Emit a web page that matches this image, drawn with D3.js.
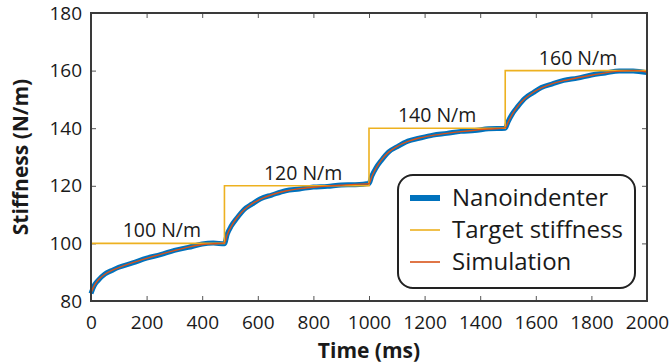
<html>
<head>
<style type="text/css">
  body { margin: 0; background: white; }
  text { font-family: "Open Sans", sans-serif; fill: #1a1a1a; }
  .axis text { font-size: 19px; }
  .axis line { stroke: #555; stroke-width: 1; }
  .axis path { display: none; }
  .title { font-size: 21px; font-weight: bold; }
  .note { font-size: 19.5px; }
  .legend text { font-size: 24px; }
</style>
<script src="https://d3js.org/d3.v7.min.js"></script>
</head>
<body>
<script type="text/javascript">

// stiffness over time (ms, N/m)
var simTime = [0, 10, 25, 50, 75, 100, 150, 200, 250, 300, 350, 400, 440, 480,
  490, 505, 525, 550, 580, 610, 650, 700, 750, 800, 850, 900, 950, 1000,
  1010, 1025, 1045, 1070, 1100, 1140, 1180, 1230, 1280, 1330, 1380, 1430, 1490,
  1500, 1515, 1535, 1560, 1590, 1620, 1660, 1700, 1750, 1800, 1850, 1900, 1950, 2000];
var simValue = [82.8, 85.0, 87.2, 89.3, 90.6, 91.6, 93.3, 94.8, 96.2, 97.5, 98.7, 99.6, 99.9, 100.1,
  103.0, 106.0, 108.9, 111.6, 113.8, 115.4, 116.9, 118.2, 119.0, 119.5, 119.9, 120.2, 120.5, 120.7,
  123.2, 126.1, 129.0, 131.6, 133.6, 135.4, 136.6, 137.5, 138.2, 138.8, 139.3, 139.7, 140.1,
  142.0, 144.8, 147.6, 150.2, 152.4, 154.0, 155.5, 156.5, 157.5, 158.4, 159.2, 159.8, 160.0, 159.5];
var nanoValue = [82.6, 85.1, 87.1, 89.4, 90.6, 91.7, 93.2, 94.9, 96.1, 97.6, 98.6, 99.8, 100.1, 99.9,
  103.2, 106.1, 108.8, 111.7, 113.7, 115.5, 116.8, 118.3, 118.9, 119.6, 119.8, 120.3, 120.4, 120.8,
  123.4, 126.2, 128.9, 131.7, 133.5, 135.5, 136.5, 137.6, 138.2, 138.9, 139.2, 139.8, 140.0,
  142.2, 144.9, 147.5, 150.3, 152.3, 154.1, 155.4, 156.6, 157.4, 158.5, 159.2, 159.9, 159.9, 159.3];

var targetTime = [0, 480, 1000, 1490, 2000];
var targetValue = [100, 120, 140, 160, 160];

var noteTime = [255, 763, 1245, 1752];
var noteValue = [100, 120, 140, 160];
var noteText = ["100 N/m", "120 N/m", "140 N/m", "160 N/m"];

var xTicks = [0, 200, 400, 600, 800, 1000, 1200, 1400, 1600, 1800, 2000];
var yTicks = [80, 100, 120, 140, 160, 180];

var legendNames = ["Nanoindenter", "Target stiffness", "Simulation"];
var blue = "#0072BD", yellow = "#EDB120", red = "#D95319";

var W = 671, H = 364;
var m = {left: 91, right: 24, top: 13, bottom: 63};

var svg = d3.select("body").append("svg")
  .attr("width", W).attr("height", H);

var x = d3.scaleLinear().domain([0, 2000]).range([m.left, W - m.right]);
var y = d3.scaleLinear().domain([80, 180]).range([H - m.bottom, m.top]);

// axes with inward ticks
svg.append("g").attr("class", "axis")
  .attr("transform", "translate(0," + (H - m.bottom) + ")")
  .call(d3.axisBottom(x).tickValues(xTicks).tickFormat(d3.format("d"))
    .tickSizeInner(-5).tickSizeOuter(0).tickPadding(15));
svg.append("g").attr("class", "axis")
  .attr("transform", "translate(" + m.left + ",0)")
  .call(d3.axisLeft(y).tickValues(yTicks).tickSizeInner(-5).tickSizeOuter(0).tickPadding(9));
svg.append("g").attr("class", "axis")
  .attr("transform", "translate(0," + m.top + ")")
  .call(d3.axisTop(x).tickValues(xTicks).tickSizeInner(-5).tickSizeOuter(0).tickFormat(""));
svg.append("g").attr("class", "axis")
  .attr("transform", "translate(" + (W - m.right) + ",0)")
  .call(d3.axisRight(y).tickValues(yTicks).tickSizeInner(-5).tickSizeOuter(0).tickFormat(""));

var line = d3.line().x(function(d) { return x(d[0]); }).y(function(d) { return y(d[1]); });

svg.append("path")
  .attr("d", line.curve(d3.curveMonotoneX)(d3.zip(simTime, nanoValue)))
  .attr("fill", "none").attr("stroke", blue).attr("stroke-width", 5)
  .attr("stroke-linejoin", "round");

svg.append("path")
  .attr("d", line.curve(d3.curveStepAfter)(d3.zip(targetTime, targetValue)))
  .attr("fill", "none").attr("stroke", yellow).attr("stroke-width", 1.6);

svg.append("path")
  .attr("d", line.curve(d3.curveMonotoneX)(d3.zip(simTime, simValue)))
  .attr("fill", "none").attr("stroke", red).attr("stroke-width", 1.4);

// step labels
svg.selectAll("text.note").data(noteText).enter()
  .append("text").attr("class", "note")
  .attr("x", function(d, i) { return x(noteTime[i]); })
  .attr("y", function(d, i) { return y(noteValue[i]) - 6; })
  .attr("text-anchor", "middle")
  .text(function(d) { return d; });

// frame
svg.append("rect")
  .attr("x", m.left).attr("y", m.top)
  .attr("width", W - m.left - m.right).attr("height", H - m.top - m.bottom)
  .attr("fill", "none").attr("stroke", "#3a3a3a").attr("stroke-width", 2);

// titles
svg.append("text").attr("class", "title")
  .attr("x", (m.left + W - m.right) / 2).attr("y", 358)
  .attr("text-anchor", "middle").text("Time (ms)");
svg.append("text").attr("class", "title")
  .attr("transform", "translate(28," + ((m.top + H - m.bottom) / 2) + ") rotate(-90)")
  .attr("text-anchor", "middle").text("Stiffness (N/m)");

// legend
var lg = svg.append("g").attr("class", "legend");
lg.append("rect")
  .attr("x", 398).attr("y", 175).attr("width", 237).attr("height", 113)
  .attr("rx", 15).attr("fill", "white").attr("stroke", "#222").attr("stroke-width", 2);
var colors = [blue, yellow, red], widths = [6, 1.6, 1.6];
legendNames.forEach(function(name, i) {
  var cy = 198 + i * 32;
  lg.append("line").attr("x1", 410).attr("x2", 440).attr("y1", cy).attr("y2", cy)
    .attr("stroke", colors[i]).attr("stroke-width", widths[i]);
  lg.append("text").attr("x", 452).attr("y", cy).attr("dy", "0.35em").text(name);
});

</script>
</body>
</html>
